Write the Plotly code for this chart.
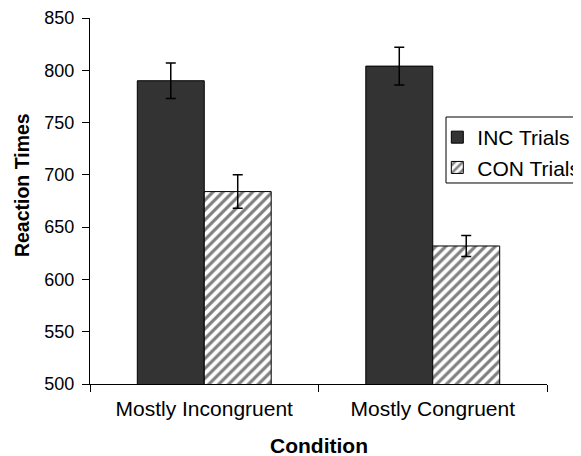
import plotly.graph_objects as go

categories = ["Mostly Incongruent", "Mostly Congruent"]
inc_values = [790, 804]
inc_errors = [17, 18]
con_values = [684, 632]
con_errors = [16, 10]
y_ticks = [500, 550, 600, 650, 700, 750, 800, 850]

FONT = "Liberation Sans, Arial, Helvetica, sans-serif"

fig = go.Figure()
fig.add_trace(go.Bar(
    name="INC Trials", x=categories, y=inc_values,
    marker=dict(color="#333333", line=dict(color="black", width=1)),
    error_y=dict(type="data", array=inc_errors, color="black", thickness=1.5, width=5),
))
fig.add_trace(go.Bar(
    name="CON Trials", x=categories, y=con_values,
    marker=dict(color="white", line=dict(color="black", width=1),
                pattern=dict(shape="/", fgcolor="black", bgcolor="white", size=7, solidity=0.45)),
    error_y=dict(type="data", array=con_errors, color="black", thickness=1.5, width=5),
))

fig.update_layout(
    width=573, height=448,
    margin=dict(l=82, r=34, t=10, b=72, autoexpand=False),
    paper_bgcolor="white", plot_bgcolor="white",
    barmode="group", bargap=0.414, bargroupgap=0,
    font=dict(family=FONT, size=21, color="black"),
    showlegend=True,
    legend=dict(x=0.76, y=0.7295, xanchor="left", yanchor="top",
                bgcolor="rgba(0,0,0,0)", borderwidth=0,
                font=dict(family=FONT, size=21, color="black"),
                tracegroupgap=0),
    shapes=[dict(type="rect", xref="paper", yref="paper",
                 x0=0.779, x1=1.2, y0=0.5492, y1=0.7295,
                 line=dict(color="black", width=1), fillcolor="white", layer="above")],
    annotations=[
        dict(text="<b>Condition</b>", xref="paper", yref="paper", x=0.5, y=-0.1667,
             xanchor="center", yanchor="middle", showarrow=False,
             font=dict(family=FONT, size=21, color="black")),
        dict(text="<b>Reaction Times</b>", xref="paper", yref="paper", x=-0.1473, y=0.5426,
             xanchor="center", yanchor="middle", showarrow=False, textangle=-90,
             font=dict(family=FONT, size=19.5, color="black")),
    ],
)
fig.update_xaxes(
    showline=True, linecolor="black", linewidth=1,
    ticks="outside", tickson="boundaries", ticklen=7, tickcolor="black",
    ticklabelstandoff=6,
    showgrid=False, zeroline=False,
)
fig.update_yaxes(
    range=[500, 850], tickvals=y_ticks,
    showline=True, linecolor="black", linewidth=1,
    ticks="outside", ticklen=7, tickcolor="black", ticklabelstandoff=4,
    ticklabeloverflow="allow", tickfont=dict(size=18),
    showgrid=False, zeroline=False,
)

fig.write_html("out.html")
